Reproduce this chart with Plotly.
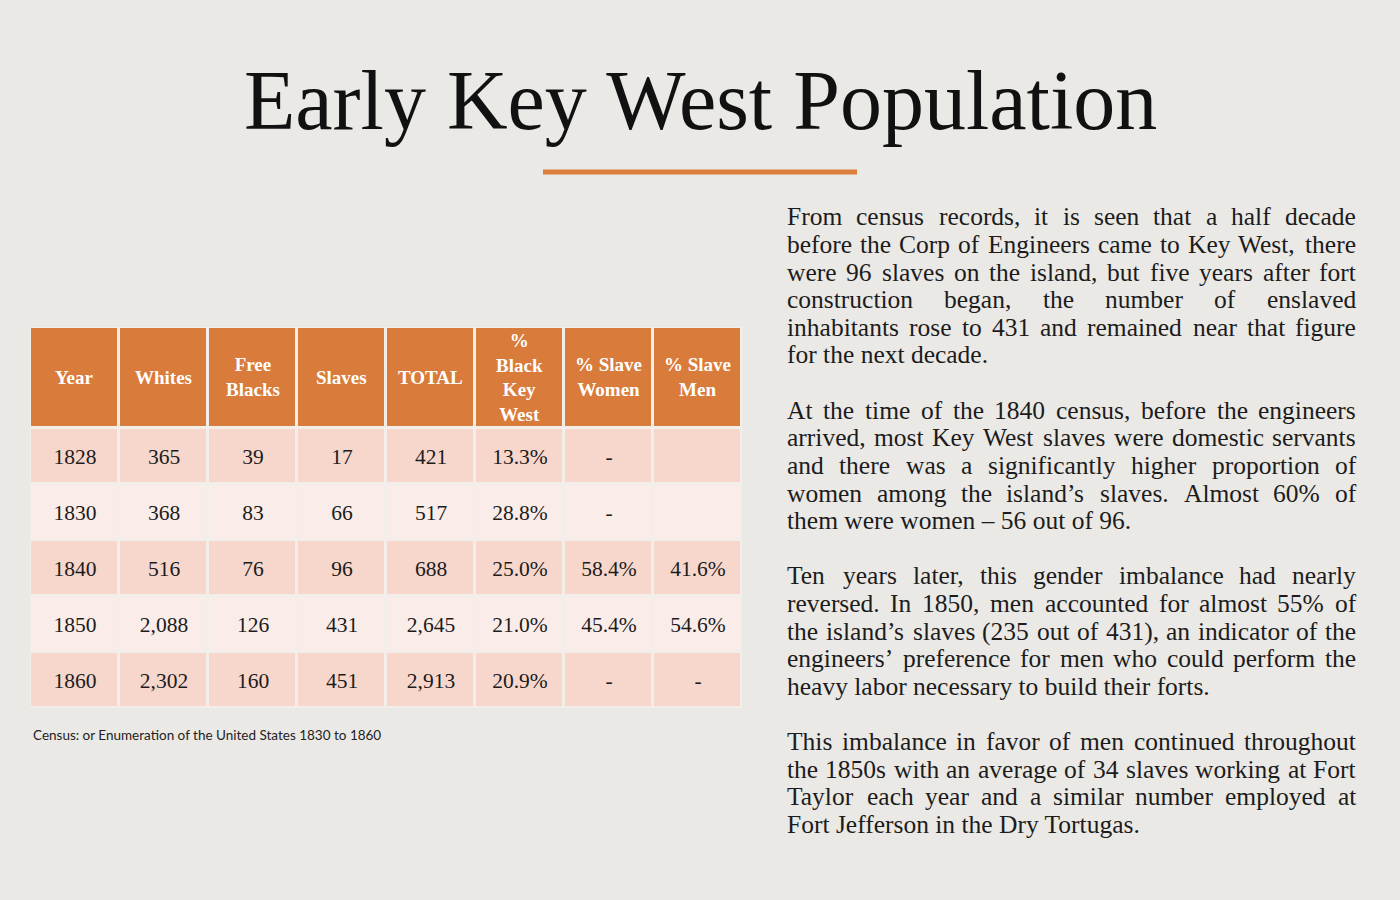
import plotly.graph_objects as go

# ---- data ----
HEADERS = ["Year", "Whites", "Free<br>Blacks", "Slaves", "TOTAL",
           "%<br>Black<br>Key<br>West", "% Slave<br>Women", "% Slave<br>Men"]
YEARS = ["1828", "1830", "1840", "1850", "1860"]
WHITES = [365, 368, 516, 2088, 2302]
FREE_BLACKS = [39, 83, 76, 126, 160]
SLAVES = [17, 66, 96, 431, 451]
TOTAL = [421, 517, 688, 2645, 2913]
PCT_BLACK = [13.3, 28.8, 25.0, 21.0, 20.9]
PCT_SLAVE_WOMEN = ["-", "-", "58.4%", "45.4%", "-"]
PCT_SLAVE_MEN = ["", "", "41.6%", "54.6%", "-"]

TITLE = "Early Key West Population"
SOURCE = "Census: or Enumeration of the United States 1830 to 1860"

# paragraphs, pre-broken into lines as in the original layout
PARAGRAPHS = [
    ["From census records, it is seen that a half decade",
     "before the Corp of Engineers came to Key West, there",
     "were 96 slaves on the island, but five years after fort",
     "construction began, the number of enslaved",
     "inhabitants rose to 431 and remained near that figure",
     "for the next decade."],
    ["At the time of the 1840 census, before the engineers",
     "arrived, most Key West slaves were domestic servants",
     "and there was a significantly higher proportion of",
     "women among the island\u2019s slaves.  Almost 60% of",
     "them were women \u2013 56 out of 96."],
    ["Ten years later, this gender imbalance had nearly",
     "reversed.  In 1850, men accounted for almost 55% of",
     "the island\u2019s slaves (235 out of 431), an indicator of the",
     "engineers\u2019 preference for men who could perform the",
     "heavy labor necessary to build their forts."],
    ["This imbalance in favor of men continued throughout",
     "the 1850s with an average of 34 slaves working at Fort",
     "Taylor each year and a similar number employed at",
     "Fort Jefferson in the Dry Tortugas."],
]

# ---- style ----
W, H = 1400, 900
BG = "#ebe9e6"
ORANGE = "#d97b3a"
ROW_ODD = "#f7d6cc"
ROW_EVEN = "#faece8"
INK = "#1c1c1c"
SERIF = "Liberation Serif, Times New Roman, serif"

TABLE_LEFT, TABLE_RIGHT, TABLE_TOP = 30, 742, 327
HEADER_H, ROW_H = 101, 56

TEXT_LEFT, TEXT_RIGHT = 787, 1356
TEXT_TOP, LINE_H = 217, 27.6
BODY_SIZE = 25.5

# Times / Liberation Serif advance widths (1/1000 em)
_W = dict(zip("abcdefghijklmnopqrstuvwxyz",
              [444, 500, 444, 500, 444, 333, 500, 500, 278, 278, 500, 278, 778,
               500, 500, 500, 500, 333, 389, 278, 500, 500, 722, 500, 500, 444]))
_W.update(zip("ABCDEFGHIJKLMNOPQRSTUVWXYZ",
              [722, 667, 667, 722, 611, 556, 722, 722, 333, 389, 722, 611, 889,
               722, 722, 556, 722, 667, 556, 611, 722, 722, 944, 722, 722, 611]))
_W.update({c: 500 for c in "0123456789"})
_W.update({" ": 250, ".": 250, ",": 250, "\u2019": 333, "'": 180, "(": 333,
           ")": 333, "%": 833, "\u2013": 500, "-": 333, ":": 278})


def text_width(s, size):
    return sum(_W.get(c, 500) for c in s) * size / 1000.0


def fmt_int(v):
    return f"{v:,}"


# ---- table ----
n_rows, n_cols = len(YEARS), len(HEADERS)
cells = [[YEARS[i], fmt_int(WHITES[i]), fmt_int(FREE_BLACKS[i]), fmt_int(SLAVES[i]),
          fmt_int(TOTAL[i]), f"{PCT_BLACK[i]:.1f}%", PCT_SLAVE_WOMEN[i], PCT_SLAVE_MEN[i]]
         for i in range(n_rows)]
x_edges = list(range(n_cols + 1))
body_edges = [HEADER_H + i * ROW_H for i in range(n_rows + 1)]
table_h = body_edges[-1]

fig = go.Figure()
fig.add_trace(go.Heatmap(
    z=[[0] * n_cols], x=x_edges, y=[0, HEADER_H],
    colorscale=[[0, ORANGE], [1, ORANGE]], showscale=False,
    xgap=3, ygap=3, hoverinfo="skip",
))
fig.add_trace(go.Heatmap(
    z=[[i % 2] * n_cols for i in range(n_rows)], x=x_edges, y=body_edges,
    colorscale=[[0, ROW_ODD], [0.5, ROW_ODD], [0.5, ROW_EVEN], [1, ROW_EVEN]],
    zmin=0, zmax=1, showscale=False, xgap=3, ygap=3,
    text=cells, texttemplate="%{text}",
    textfont=dict(family=SERIF, size=21.5, color=INK),
    hoverinfo="skip",
))

annotations = []
for j, h in enumerate(HEADERS):
    annotations.append(dict(
        x=j + 0.5, y=HEADER_H / 2, xref="x", yref="y", text=f"<b>{h}</b>",
        showarrow=False, xanchor="center", yanchor="middle", align="center",
        font=dict(family=SERIF, size=19, color="#ffffff"),
    ))

# ---- title, source ----
annotations.append(dict(
    x=0.5, y=1 - 100 / H, xref="paper", yref="paper", text=TITLE,
    showarrow=False, xanchor="center", yanchor="middle",
    font=dict(family=SERIF, size=84, color="#111111"),
))
annotations.append(dict(
    x=31 / W, y=1 - 735 / H, xref="paper", yref="paper", text=SOURCE,
    showarrow=False, xanchor="left", yanchor="middle",
    font=dict(family="Lato, sans-serif", size=13.5, color="#222222"),
))

# ---- justified paragraph text, one word at a time ----
slot = 0
for para in PARAGRAPHS:
    for k, line in enumerate(para):
        y = 1 - (TEXT_TOP + slot * LINE_H) / H
        words = line.split()
        last = k == len(para) - 1
        if last or len(words) == 1:
            annotations.append(dict(
                x=(TEXT_LEFT - 2) / W, y=y, xref="paper", yref="paper", text=line,
                showarrow=False, xanchor="left", yanchor="middle",
                font=dict(family=SERIF, size=BODY_SIZE, color=INK),
            ))
        else:
            widths = [text_width(w, BODY_SIZE) for w in words]
            gap = (TEXT_RIGHT - TEXT_LEFT - sum(widths)) / (len(words) - 1)
            xpos = TEXT_LEFT
            for w, ww in zip(words, widths):
                annotations.append(dict(
                    x=(xpos - 2) / W, y=y, xref="paper", yref="paper", text=w,
                    showarrow=False, xanchor="left", yanchor="middle",
                    font=dict(family=SERIF, size=BODY_SIZE, color=INK),
                ))
                xpos += ww + gap
        slot += 1
    slot += 1  # blank line between paragraphs

fig.update_layout(
    width=W, height=H,
    margin=dict(l=0, r=0, t=0, b=0),
    paper_bgcolor=BG, plot_bgcolor="#f4eeeb",
    xaxis=dict(domain=[TABLE_LEFT / W, TABLE_RIGHT / W], range=[0, n_cols],
               visible=False, fixedrange=True),
    yaxis=dict(domain=[1 - (TABLE_TOP + table_h) / H, 1 - TABLE_TOP / H],
               range=[table_h, 0], visible=False, fixedrange=True),
    annotations=annotations,
    shapes=[dict(type="line", xref="paper", yref="paper",
                 x0=543 / W, x1=857 / W, y0=1 - 172 / H, y1=1 - 172 / H,
                 line=dict(color="#dc7e3c", width=5))],
    showlegend=False,
)

# drop the browser's default 8px page margin so the figure fills the window
fig.write_html("out.html", config={"displayModeBar": False},
               post_script="document.body.style.margin='0';")
